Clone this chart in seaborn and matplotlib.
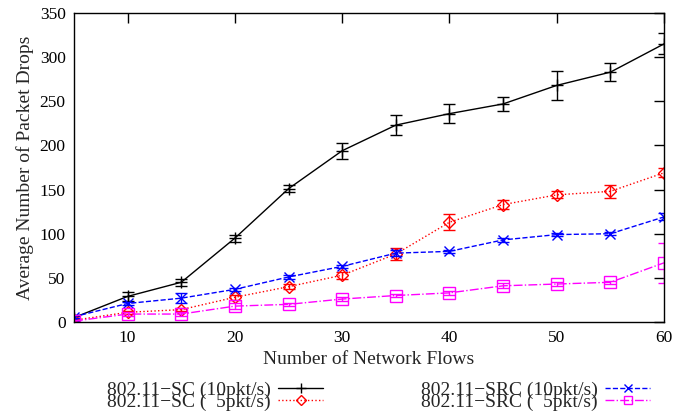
import matplotlib
matplotlib.use("Agg")
import matplotlib.pyplot as plt
import seaborn as sns
import pandas as pd
import numpy as np

flows = [5, 10, 15, 20, 25, 30, 35, 40, 45, 50, 55, 60]

sc10 = [5, 29, 45, 95, 151, 194, 223, 236, 247, 268, 283, 315]
sc10_err = [2, 5, 4, 4, 4, 9, 11, 11, 8, 16, 10, 12]

sc5 = [2, 11, 14, 28, 40, 53, 77, 113, 133, 144, 148, 169]
sc5_err = [1, 2, 2, 3, 3, 4, 7, 9, 5, 4, 7, 5]

src10 = [6, 21, 27, 37, 51, 63, 78, 80, 93, 99, 100, 119]
src10_err = [2, 2, 6, 2, 2, 2, 3, 2, 2, 2, 2, 4]

src5 = [1, 9, 9, 18, 20, 26, 30, 33, 41, 43, 45, 67]
src5_err = [1, 2, 2, 3, 2, 2, 2, 2, 3, 2, 2, 23]

labels = ["802.11\u2212SC (10pkt/s)", "802.11\u2212SC (  5pkt/s)",
          "802.11\u2212SRC (10pkt/s)", "802.11\u2212SRC (  5pkt/s)"]

xticks = [10, 20, 30, 40, 50, 60]
yticks = [0, 50, 100, 150, 200, 250, 300, 350]

sns.set_theme(style="white")
plt.rcParams['font.family'] = ['Liberation Serif', 'DejaVu Serif']

W, H = 676, 412
fig = plt.figure(figsize=(W / 100, H / 100), dpi=100)
ax = fig.add_axes([74 / W, 1 - 322 / H, (664 - 74) / W, (322 - 13) / H])

series = [
    (sc10, sc10_err, "black", "-", "+", 9, labels[0]),
    (sc5, sc5_err, "red", ":", "D", 6, labels[1]),
    (src10, src10_err, "blue", "--", "x", 7, labels[2]),
    (src5, src5_err, "magenta", "-.", "s", 8, labels[3]),
]

for i, (vals, errs, col, ls, mk, ms, lab) in enumerate(series):
    df = pd.DataFrame({"flows": flows, "drops": vals})
    sns.lineplot(data=df, x="flows", y="drops", ax=ax, color=col, linestyle=ls,
                 linewidth=1.0, marker=mk, markersize=ms, mfc="none", mec=col,
                 mew=1.0, label=lab, legend=True)
    ax.errorbar(flows, vals, yerr=errs, fmt="none", ecolor=col, elinewidth=1.0,
                capsize=4, capthick=1.0)

ax.set_xlim(5, 60)
ax.set_ylim(0, 350)
ax.set_xticks(xticks)
ax.set_yticks(yticks)
ax.tick_params(direction="in", length=7, width=1, top=True, right=True,
               labelsize=12.5, colors="black", pad=6)
for s in ax.spines.values():
    s.set_color("black")
    s.set_linewidth(1.0)
ax.set_xlabel("Number of Network Flows", fontsize=14, labelpad=3)
ax.set_ylabel("Average Number of Packet Drops", fontsize=14, labelpad=4)

h, l = ax.get_legend_handles_labels()
ax.get_legend().remove()

common = dict(frameon=False, markerfirst=False, fontsize=14, handlelength=2.3,
              labelspacing=-0.28, handletextpad=0.4, borderpad=0,
              borderaxespad=0, loc="upper right", markerscale=0.8)
leg1 = fig.legend(h[0:2], l[0:2], bbox_to_anchor=(323 / W, 1 - 381 / H), **common)
leg2 = fig.legend(h[2:4], l[2:4], bbox_to_anchor=(650 / W, 1 - 381 / H), **common)

fig.savefig("out.png", dpi=100)
